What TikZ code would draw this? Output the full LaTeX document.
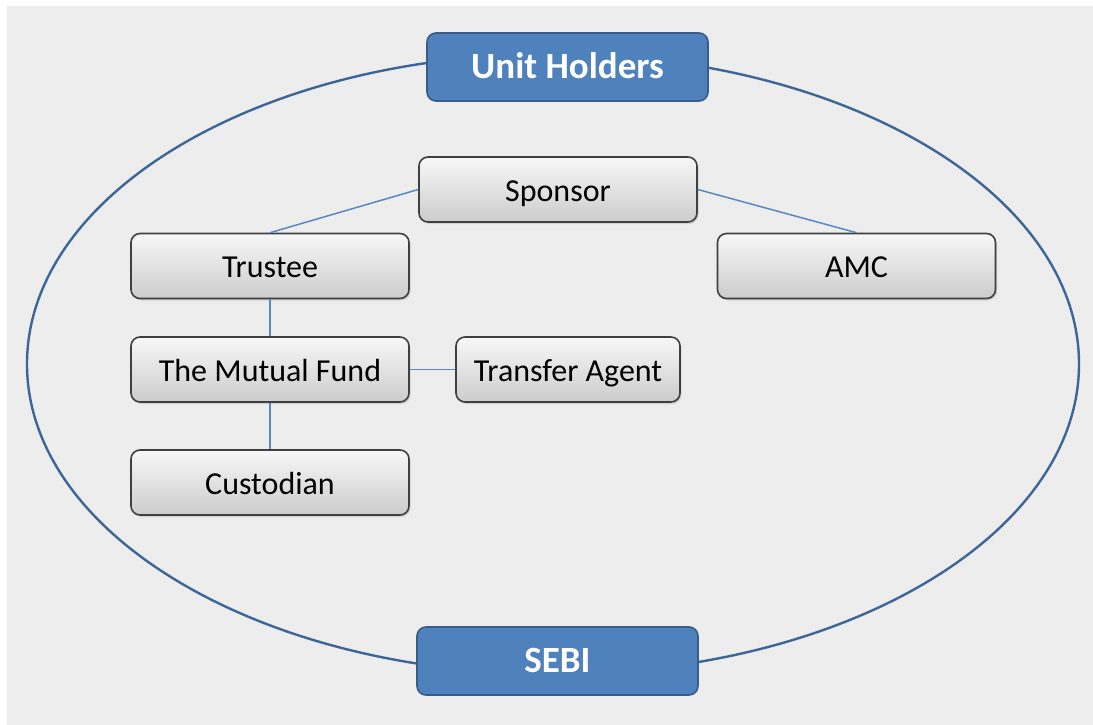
\documentclass[tikz,border=0pt]{standalone}
\usepackage{fontspec}
\setmainfont{Carlito}
\usetikzlibrary{shadows}
\definecolor{bgfill}{HTML}{EDEDED}
\definecolor{hdrfill}{HTML}{4F81BD}
\definecolor{hdredge}{HTML}{385D8A}
\definecolor{ringcol}{HTML}{3D6698}
\definecolor{linkcol}{HTML}{5A88C0}

\begin{document}
\begin{tikzpicture}[
    x=1pt,y=-1pt,
    box/.style={draw=black!75, line width=1.6pt, rounded corners=9pt,
      top color=white!97!black, bottom color=black!20,
      minimum width=278pt, minimum height=65pt,
      text height=23pt, text depth=0pt,
      font=\fontsize{32}{36}\selectfont,
      drop shadow={opacity=0.25, shadow xshift=1.5pt, shadow yshift=-2pt}},
    hdr/.style={draw=hdredge, line width=1.6pt, rounded corners=9pt,
      fill=hdrfill, text=white, minimum width=281pt, minimum height=68pt,
      text height=23pt, text depth=0pt,
      font=\fontsize{37}{40}\selectfont\bfseries},
    link/.style={linkcol, line width=1.5pt}
    ]
    \useasboundingbox (0,0) rectangle (1093,725);
    \fill[bgfill] (7,6) rectangle (1100,732);
    \draw[ringcol, line width=2.4pt] (553,364) ellipse [x radius=526, y radius=310];
    % outer ring labels
    \node[hdr] (units) at (567.5,67) {Unit Holders};
    \node[hdr] (sebi) at (557.5,661) {SEBI};
    % the fund structure
    \node[box] (sponsor) at (558,189.5) {Sponsor};
    \node[box] (trustee) at (270,266) {Trustee};
    \node[box] (amc) at (856.5,266) {AMC};
    \node[box] (fund) at (270,369.5) {The Mutual Fund};
    \node[box, minimum width=224pt] (agent) at (568,369.5) {Transfer Agent};
    \node[box] (custodian) at (270,482.5) {Custodian};
    \draw[link] (sponsor.west) -- (trustee.north);
    \draw[link] (sponsor.east) -- (amc.north);
    \draw[link] (trustee) -- (fund);
    \draw[link] (fund) -- (agent);
    \draw[link] (fund) -- (custodian);
\end{tikzpicture}
\end{document}
